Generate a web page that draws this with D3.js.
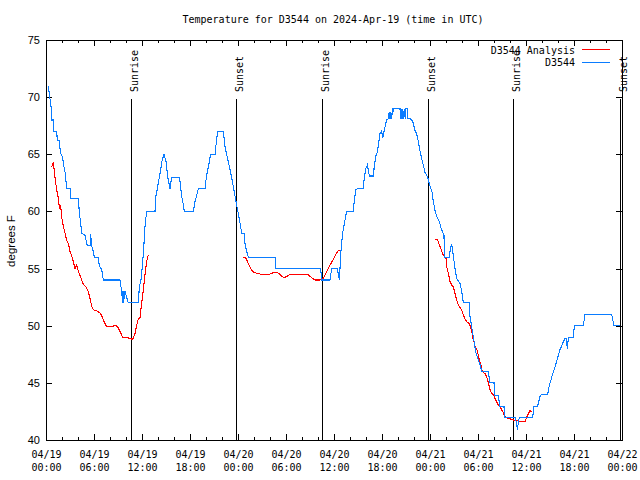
<!DOCTYPE html>
<html><head><meta charset="utf-8">
<script src="https://cdn.jsdelivr.net/npm/d3@7"></script>
<style>body{margin:0;background:#fff}</style>
</head><body><svg id="c" width="640" height="480"></svg>
<script>
// ---------- data ----------
const chartTitle = "Temperature for D3544 on 2024-Apr-19 (time in UTC)";
const yLabel = "degrees F";
const startTime = Date.UTC(2024, 3, 19, 0, 0);   // hours below are offsets from this
const yTicks = [40, 45, 50, 55, 60, 65, 70, 75];
const xMajorHours = [0, 6, 12, 18, 24, 30, 36, 42, 48, 54, 60, 66, 72];
const xMinorHours = [2, 4, 8, 10, 14, 16, 20, 22, 26, 28, 32, 34, 38, 40, 44, 46, 50, 52, 56, 58, 62, 64, 68, 70];
const eventNames = ["Sunrise", "Sunset", "Sunrise", "Sunset", "Sunrise", "Sunset"];
const eventHours = [10.65, 23.79, 34.57, 47.79, 58.42, 71.8];
const seriesNames = ["D3544 Analysis", "D3544"];

// [hour offset, temperature F]; null = gap
const analysisSeries = [
 [0.71,63.86],[0.92,64.35],[1.0,63.8],[1.125,63.0],[1.33,61.9],[1.54,61.15],[1.67,60.3],[1.83,60.5],[1.96,59.5],
 [2.17,58.7],[2.375,58.1],[2.58,57.5],[2.79,57.2],[3.0,56.5],[3.21,56.1],[3.42,55.6],[3.625,55.0],[3.83,55.3],
 [4.04,54.8],[4.25,54.4],[4.46,54.0],[4.67,53.6],[5.0,53.4],[5.29,53.0],[5.5,52.4],[5.71,51.7],[5.92,51.4],
 [6.33,51.3],[6.75,51.1],[6.96,50.9],[7.17,50.5],[7.375,50.2],[7.58,49.9],[8.21,49.9],[8.5,50.0],[8.92,49.97],
 [9.25,49.5],[9.58,49.0],[10.08,48.95],[10.5,48.9],[10.83,48.8],[11.125,49.3],[11.33,50.0],[11.54,50.6],
 [11.75,50.7],[11.96,52.0],[12.08,52.6],[12.25,53.7],[12.42,54.7],[12.58,55.6],[12.79,56.2],
 [18.0,null],
 [24.67,56.0],[25.0,55.9],[25.29,55.45],[25.58,55.0],[25.92,54.7],[26.33,54.6],[26.75,54.52],[28.0,54.52],
 [28.42,54.64],[28.75,54.7],[29.17,54.55],[29.46,54.35],[29.75,54.2],[30.17,54.35],[30.5,54.5],[30.92,54.52],
 [32.79,54.45],[33.21,54.2],[33.625,54.0],[34.25,54.0],[34.67,54.15],[35.08,54.7],[35.5,55.3],[35.92,55.8],
 [36.25,56.25],[36.54,56.6],[36.875,56.6],
 [42.0,null],
 [48.625,57.56],[48.92,57.56],[49.17,57.06],[49.33,56.8],[49.58,56.3],[49.75,56.1],[50.0,55.9],[50.08,55.16],
 [50.29,54.6],[50.5,53.85],[50.71,53.56],[50.92,53.4],[51.125,52.8],[51.33,52.25],[51.54,51.8],[51.75,51.6],
 [51.96,51.4],[52.17,50.94],[52.375,50.6],[52.58,50.35],[52.92,50.2],[53.21,49.6],[53.33,49.0],[53.5,48.6],
 [53.625,48.17],[53.83,48.0],[54.04,47.4],[54.17,47.0],[54.33,46.7],[54.46,46.1],[54.67,45.9],[54.875,45.8],
 [55.08,45.55],[55.29,45.0],[55.5,44.4],[55.71,44.1],[55.92,43.95],[56.125,43.65],[56.33,43.35],[56.54,43.06],
 [56.75,42.9],[57.08,42.5],[57.375,42.04],[57.67,41.9],[58.0,41.85],[58.42,41.75],[58.83,41.7],[59.25,41.6],
 [59.875,41.6],[60.08,42.0],[60.29,42.3],[60.5,42.56],[60.71,42.5]
];

const observedSeries = [
 [0.29,71.0],[0.42,70.2],[0.58,69.5],[0.71,68.6],[0.72,68.0],[0.92,68.0],[0.93,67.0],[1.33,67.0],[1.42,66.2],
 [1.625,66.2],[1.75,65.5],[1.83,65.1],[2.04,64.8],[2.25,63.9],[2.42,63.3],[2.58,62.0],[3.08,62.0],[3.09,61.1],
 [4.04,61.1],[4.17,59.9],[4.33,59.0],[4.46,58.1],[4.875,57.9],[5.0,57.5],[5.17,57.0],[5.5,57.0],[5.58,58.0],
 [5.71,57.0],[5.92,56.5],[6.04,56.0],[6.54,56.0],[6.67,55.2],[6.96,54.9],[7.17,54.0],[9.25,54.0],[9.46,53.0],
 [9.58,52.0],[9.62,53.0],[9.67,52.0],[9.875,53.0],[10.08,52.5],[10.29,52.0],[11.54,52.0],[11.67,53.4],
 [11.875,54.0],[12.08,55.5],[12.25,57.2],[12.375,58.7],[12.58,60.0],[13.625,60.0],[13.75,61.4],[13.92,62.0],
 [14.17,63.0],[14.33,63.6],[14.5,64.4],[14.75,65.0],[15.0,64.4],[15.21,63.0],[15.5,62.0],[15.71,63.0],
 [16.67,63.0],[16.83,62.2],[16.96,61.3],[17.17,60.6],[17.29,60.0],[18.42,60.0],[18.625,60.85],[18.83,61.4],
 [19.04,62.0],[19.875,62.0],[20.0,62.75],[20.17,63.5],[20.375,64.2],[20.58,65.0],[21.125,65.0],[21.25,65.8],
 [21.46,67.0],[22.17,67.0],[22.375,65.7],[22.58,65.0],[22.83,64.2],[23.08,63.4],[23.33,62.5],[23.54,61.7],
 [23.75,60.85],[24.04,59.8],[24.25,59.0],[24.46,58.1],[24.75,58.1],[24.875,57.2],[25.08,56.5],[25.29,56.0],
 [28.625,56.0],[28.71,55.0],[34.33,55.0],[34.46,54.0],[35.5,54.0],[35.71,55.0],[36.42,55.0],[36.67,54.0],
 [36.875,56.6],[37.08,58.1],[37.375,59.25],[37.58,60.0],[38.42,60.0],[38.54,61.0],[38.75,61.9],[38.92,62.0],
 [39.67,62.0],[39.79,63.0],[40.0,63.8],[40.17,64.06],[40.42,63.1],[40.92,63.1],[41.04,64.0],[41.25,64.9],
 [41.42,65.2],[41.58,66.0],[41.75,66.8],[41.96,67.06],[42.08,66.4],[42.375,67.4],[42.58,68.0],[42.79,68.1],
 [42.9,68.7],[43.0,68.1],[43.1,68.7],[43.21,68.1],[43.3,69.0],[43.42,68.7],[43.5,69.0],[44.25,69.0],[44.3,68.1],
 [44.4,69.0],[44.5,68.1],[44.6,69.0],[44.7,68.1],[44.8,69.0],[44.9,68.1],[45.0,69.0],[45.17,69.0],[45.22,68.1],
 [45.5,68.15],[45.83,67.9],[46.125,67.1],[46.33,66.8],[46.54,66.1],[46.75,65.3],[46.96,64.6],[47.17,64.06],
 [47.375,63.4],[47.58,63.2],[47.79,62.8],[47.92,62.4],[48.25,61.7],[48.42,60.85],[48.625,60.1],[48.83,59.6],
 [49.17,59.1],[49.4,58.5],[49.58,58.2],[49.75,57.9],[49.8,56.0],[50.42,56.0],[50.58,56.9],[50.71,57.1],
 [50.92,56.1],[51.125,55.0],[51.33,54.15],[51.75,53.7],[51.96,53.0],[52.17,52.0],[52.92,52.0],[53.0,50.8],
 [53.21,49.9],[53.42,49.0],[53.75,47.6],[54.04,47.0],[54.25,46.6],[54.46,46.0],[55.29,46.0],[55.5,45.0],
 [56.0,45.0],[56.125,43.9],[56.54,43.9],[56.75,42.9],[57.25,42.9],[57.375,42.0],[58.625,42.0],[58.83,41.45],
 [58.92,40.9],[59.04,41.5],[59.17,42.0],[60.83,42.0],[61.0,42.9],[61.42,42.9],[61.75,43.8],[61.96,44.0],
 [62.71,44.0],[62.92,44.8],[63.1,45.2],[63.33,45.8],[63.5,46.1],[63.83,46.9],[64.0,47.3],[64.25,47.9],
 [64.45,48.2],[64.67,48.6],[64.875,48.9],[65.0,48.9],[65.17,48.0],[65.29,48.9],[65.5,49.0],[65.92,49.0],
 [66.04,50.0],[67.17,50.0],[67.375,51.0],[70.71,51.0],[71.0,50.0],[71.75,50.0]
];

// ---------- layout / style ----------
const W = 640, H = 480;
const M = {left: 46, right: 622, top: 40, bottom: 440};
const colors = ["#ff0000", "#0a7cff"];
const mono = "'DejaVu Sans Mono', monospace";
const sans = "'Liberation Sans', Arial, sans-serif";
const toDate = h => new Date(startTime + h * 3600e3);

const svg = d3.select("#c");
svg.append("rect").attr("width", W).attr("height", H).attr("fill", "#fff");

const x = d3.scaleUtc().domain([toDate(0), toDate(72)]).range([M.left, M.right]);
const y = d3.scaleLinear().domain([40, 75]).range([M.bottom, M.top]);

const fmtD = d3.utcFormat("%m/%d"), fmtT = d3.utcFormat("%H:%M");

function styleAxis(g) {
  g.select(".domain").remove();
  g.selectAll("line").attr("stroke", "#000").attr("shape-rendering", "crispEdges");
}

// bottom major with labels
const gxb = svg.append("g").attr("transform", `translate(0,${M.bottom})`)
  .call(d3.axisBottom(x).tickValues(xMajorHours.map(toDate)).tickSizeInner(-6).tickSizeOuter(0).tickFormat(() => ""));
styleAxis(gxb);
gxb.selectAll(".tick text").attr("dy", null).attr("y", null)
  .attr("font-family", mono).attr("font-size", 10).attr("fill", "#000")
  .each(function(d) {
    const t = d3.select(this);
    t.append("tspan").attr("x", 0).attr("y", 17.5).text(fmtD(d));
    t.append("tspan").attr("x", 0).attr("y", 30.5).text(fmtT(d));
  });
// bottom minor
styleAxis(svg.append("g").attr("transform", `translate(0,${M.bottom})`)
  .call(d3.axisBottom(x).tickValues(xMinorHours.map(toDate)).tickSizeInner(-3).tickSizeOuter(0).tickFormat(() => "")));
// top major/minor
styleAxis(svg.append("g").attr("transform", `translate(0,${M.top})`)
  .call(d3.axisTop(x).tickValues(xMajorHours.map(toDate)).tickSizeInner(-6).tickSizeOuter(0).tickFormat(() => "")));
styleAxis(svg.append("g").attr("transform", `translate(0,${M.top})`)
  .call(d3.axisTop(x).tickValues(xMinorHours.map(toDate)).tickSizeInner(-3).tickSizeOuter(0).tickFormat(() => "")));

// left axis with labels
const gyl = svg.append("g").attr("transform", `translate(${M.left},0)`)
  .call(d3.axisLeft(y).tickValues(yTicks).tickSizeInner(-6).tickSizeOuter(0).tickPadding(6).tickFormat(d3.format("d")));
styleAxis(gyl);
gyl.selectAll(".tick text").attr("font-family", sans).attr("font-size", 11).attr("fill", "#000");
// right axis
styleAxis(svg.append("g").attr("transform", `translate(${M.right},0)`)
  .call(d3.axisRight(y).tickValues(yTicks).tickSizeInner(-6).tickSizeOuter(0).tickFormat(() => "")));

// border
svg.append("rect").attr("x", M.left).attr("y", M.top)
  .attr("width", M.right - M.left).attr("height", M.bottom - M.top)
  .attr("fill", "none").attr("stroke", "#000").attr("shape-rendering", "crispEdges");

// title & y label
svg.append("text").attr("x", 333).attr("y", 23).attr("text-anchor", "middle")
  .attr("font-family", mono).attr("font-size", 10).text(chartTitle);
svg.append("text").attr("transform", "translate(15,241) rotate(-90)").attr("text-anchor", "middle")
  .attr("font-family", sans).attr("font-size", 11.5).text(yLabel);

// sunrise / sunset markers
const ev = svg.append("g");
eventHours.forEach((h, i) => {
  const xp = x(toDate(h));
  ev.append("line").attr("x1", xp).attr("x2", xp).attr("y1", 99).attr("y2", M.bottom)
    .attr("stroke", "#000").attr("shape-rendering", "crispEdges");
  ev.append("text").attr("transform", `translate(${xp + 6.5},92) rotate(-90)`)
    .attr("font-family", mono).attr("font-size", 10).text(eventNames[i]);
});

// series
const line = d3.line().defined(d => d[1] != null)
  .x(d => x(toDate(d[0]))).y(d => y(d[1]));
[analysisSeries, observedSeries].forEach((s, i) => {
  svg.append("path").datum(s).attr("d", line).attr("fill", "none")
    .attr("stroke", colors[i]).attr("stroke-width", 1.1).attr("shape-rendering", "crispEdges");
});

// legend
seriesNames.forEach((n, i) => {
  const ly = 49.5 + i * 12.5;
  svg.append("text").attr("x", 575).attr("y", ly + 4).attr("text-anchor", "end")
    .attr("font-family", mono).attr("font-size", 10).text(n);
  svg.append("line").attr("x1", 582).attr("x2", 610).attr("y1", ly).attr("y2", ly)
    .attr("stroke", colors[i]).attr("shape-rendering", "crispEdges");
});
</script></body></html>
